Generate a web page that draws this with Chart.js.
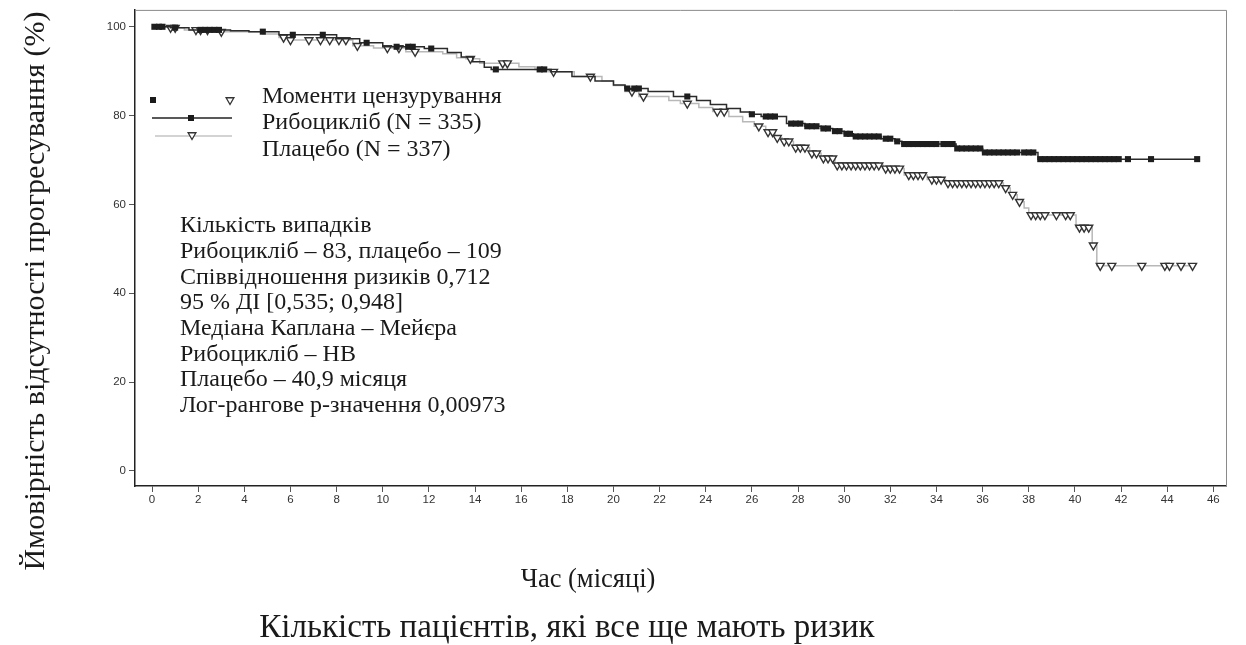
<!DOCTYPE html>
<html><head><meta charset="utf-8">
<script src="https://cdn.jsdelivr.net/npm/chart.js@4/dist/chart.umd.min.js"></script>
<style>html,body{margin:0;padding:0;background:#fff;}#wrap{position:relative;width:1246px;height:645px;}</style>
</head><body><div id="wrap"><canvas id="c" width="1246" height="645"></canvas></div>
<script>
// ---- data ----
const xTicks = [0,2,4,6,8,10,12,14,16,18,20,22,24,26,28,30,32,34,36,38,40,42,44,46];
const yTicks = [0,20,40,60,80,100];

const ribTime = [0,0.8,1.6,3.4,4.2,5.5,8.0,9.0,10.0,11.8,12.8,13.4,13.9,14.4,14.7,17.3,18.2,19.2,20.0,20.5,21.5,22.6,23.6,24.2,24.9,25.5,25.9,26.4,27.5,28.3,29.0,29.5,30.0,30.4,31.6,32.2,32.5,34.85,36.0,38.4,45.3];
const ribSurv = [100,99.8,99.3,99.1,98.9,98.2,97.3,96.4,95.5,95.1,94.2,93.2,92.1,90.9,90.4,89.9,88.8,87.8,86.9,86.1,85.4,84.3,83.4,82.5,81.6,80.8,80.3,79.8,78.2,77.6,77.1,76.5,75.9,75.3,74.8,74.2,73.6,72.6,71.7,70.2,70.2];

const placTime = [0,0.7,1.4,2.8,4.8,5.5,5.9,8.7,9.6,11.0,12.6,13.2,13.6,14.2,15.9,16.6,17.2,18.3,19.5,20.0,20.5,21.1,22.4,22.9,23.7,24.3,25.0,25.6,26.1,26.6,27.0,27.3,27.8,28.5,29.0,29.6,31.7,32.6,33.6,34.4,36.9,37.2,37.5,37.8,38.0,40.05,40.75,40.95,45.1];
const placSurv = [100,99.8,99.3,98.9,98.4,97.6,97.0,95.7,95.2,94.4,93.9,93.0,92.8,91.8,91.0,90.4,89.9,88.8,87.8,86.8,85.4,84.3,83.4,82.7,81.8,80.9,79.8,78.6,77.6,76.3,75.0,74.2,72.8,71.5,70.4,68.8,68.1,66.6,65.6,64.8,63.7,62.2,60.6,59.2,57.6,54.8,50.8,46.2,46.2];

const ribCensTime = [0.1,0.3,0.45,1.0,2.1,2.3,2.5,2.7,2.9,4.8,6.1,7.4,9.3,10.6,11.1,11.3,12.1,14.9,16.8,17.0,20.6,20.9,21.1,23.2,26.0,26.6,26.8,27.0,27.7,27.9,28.1,28.4,28.6,28.8,29.1,29.3,29.6,29.8,30.1,30.25,30.5,30.7,30.9,31.1,31.3,31.5,31.8,32.0,32.3,32.6,32.8,33.0,33.2,33.4,33.6,33.8,34.0,34.3,34.5,34.7,34.9,35.1,35.3,35.5,35.7,35.9,36.1,36.3,36.5,36.7,36.9,37.1,37.3,37.5,37.8,38.0,38.2,38.5,38.7,38.9,39.1,39.3,39.5,39.7,39.9,40.1,40.3,40.5,40.7,40.9,41.1,41.3,41.5,41.7,41.9,42.3,43.3,45.3];
const ribCensSurv = [100,100,100,99.8,99.3,99.3,99.3,99.3,99.3,98.9,98.2,98.2,96.4,95.5,95.5,95.5,95.1,90.4,90.4,90.4,86.1,86.1,86.1,84.3,80.3,79.8,79.8,79.8,78.2,78.2,78.2,77.6,77.6,77.6,77.1,77.1,76.5,76.5,75.9,75.9,75.3,75.3,75.3,75.3,75.3,75.3,74.8,74.8,74.2,73.6,73.6,73.6,73.6,73.6,73.6,73.6,73.6,73.6,73.6,73.6,72.6,72.6,72.6,72.6,72.6,72.6,71.7,71.7,71.7,71.7,71.7,71.7,71.7,71.7,71.7,71.7,71.7,70.2,70.2,70.2,70.2,70.2,70.2,70.2,70.2,70.2,70.2,70.2,70.2,70.2,70.2,70.2,70.2,70.2,70.2,70.2,70.2,70.2];

const placCensTime = [0.8,1.0,1.9,2.1,2.4,3.0,5.7,6.0,6.8,7.3,7.7,8.1,8.4,8.9,10.2,10.7,11.4,13.8,15.2,15.4,17.4,19.0,20.8,21.3,23.2,24.5,24.8,26.3,26.7,26.9,27.1,27.4,27.6,27.9,28.1,28.3,28.6,28.8,29.1,29.3,29.5,29.7,29.9,30.1,30.3,30.5,30.7,30.9,31.1,31.3,31.5,31.8,32.0,32.2,32.4,32.8,33.0,33.2,33.4,33.8,34.0,34.2,34.5,34.7,34.9,35.1,35.3,35.5,35.7,35.9,36.1,36.3,36.5,36.7,37.0,37.3,37.6,38.1,38.3,38.5,38.7,39.2,39.6,39.8,40.2,40.4,40.6,40.8,41.1,41.6,42.9,43.9,44.1,44.6,45.1];
const placCensSurv = [99.8,99.8,99.3,99.3,99.3,98.9,97.6,97.0,97.0,97.0,97.0,97.0,97.0,95.7,95.2,95.2,94.4,92.8,91.8,91.8,89.9,88.8,85.4,84.3,82.7,80.9,80.9,77.6,76.3,76.3,75.0,74.2,74.2,72.8,72.8,72.8,71.5,71.5,70.4,70.4,70.4,68.8,68.8,68.8,68.8,68.8,68.8,68.8,68.8,68.8,68.8,68.1,68.1,68.1,68.1,66.6,66.6,66.6,66.6,65.6,65.6,65.6,64.8,64.8,64.8,64.8,64.8,64.8,64.8,64.8,64.8,64.8,64.8,64.8,63.7,62.2,60.6,57.6,57.6,57.6,57.6,57.6,57.6,57.6,54.8,54.8,54.8,50.8,46.2,46.2,46.2,46.2,46.2,46.2,46.2];

const legendLabels = ['Моменти цензурування','Рибоцикліб (N = 335)','Плацебо (N = 337)'];
const statsLines = ['Кількість випадків','Рибоцикліб – 83, плацебо – 109','Співвідношення ризиків 0,712','95 % ДІ [0,535; 0,948]','Медіана Каплана – Мейєра','Рибоцикліб – НВ','Плацебо – 40,9 місяця','Лог-рангове р-значення 0,00973'];
const yTitle = 'Ймовірність відсутності прогресування (%)';
const xTitle = 'Час (місяці)';
const riskTitle = 'Кількість пацієнтів, які все ще мають ризик';

// ---- helpers ----
const pts = (xs, ys) => xs.map((x, i) => ({x: x, y: ys[i]}));
const SERIF = '"Liberation Serif", "DejaVu Serif", serif';
const SANS = '"Liberation Sans", Arial, sans-serif';

const textPlugin = {
  id: 'texts',
  afterDraw(chart) {
    const ctx = chart.ctx;
    const a = chart.chartArea;
    ctx.save();
    ctx.strokeStyle = '#8a8a8a';
    ctx.lineWidth = 1;
    ctx.beginPath();
    ctx.moveTo(a.left, a.top + 0.5); ctx.lineTo(a.right + 0.5, a.top + 0.5); ctx.lineTo(a.right + 0.5, a.bottom);
    ctx.stroke();

    ctx.fillStyle = '#1a1a1a';
    ctx.fillRect(150, 97, 6, 6);
    drawTri(ctx, 230, 100, 4.5);
    ctx.strokeStyle = '#222'; ctx.lineWidth = 1.5;
    ctx.beginPath(); ctx.moveTo(152, 118); ctx.lineTo(232, 118); ctx.stroke();
    ctx.fillRect(188, 115, 6, 6);
    ctx.strokeStyle = '#c4c4c4'; ctx.lineWidth = 1.5;
    ctx.beginPath(); ctx.moveTo(155, 136); ctx.lineTo(232, 136); ctx.stroke();
    drawTri(ctx, 192, 135, 4.5);

    ctx.fillStyle = '#1a1a1a';
    ctx.font = '24px ' + SERIF;
    ctx.textBaseline = 'middle';
    ctx.textAlign = 'left';
    const ly = [97, 123, 150];
    legendLabels.forEach((t, i) => ctx.fillText(t, 262, ly[i]));

    statsLines.forEach((t, i) => ctx.fillText(t, 180, 226 + i * 25.7));

    ctx.textAlign = 'center';
    ctx.font = '26.5px ' + SERIF;
    ctx.fillText(xTitle, 588, 580);
    ctx.font = '33px ' + SERIF;
    ctx.fillText(riskTitle, 567, 628);
    ctx.save();
    ctx.translate(36, 291);
    ctx.rotate(-Math.PI / 2);
    ctx.font = '30px ' + SERIF;
    ctx.fillText(yTitle, 0, 0);
    ctx.restore();
    ctx.restore();
  }
};
function drawTri(ctx, x, y, r) {
  ctx.save();
  ctx.beginPath();
  ctx.moveTo(x, y + r);
  ctx.lineTo(x - r * 0.866, y - r * 0.5);
  ctx.lineTo(x + r * 0.866, y - r * 0.5);
  ctx.closePath();
  ctx.fillStyle = '#fff'; ctx.fill();
  ctx.strokeStyle = '#333'; ctx.lineWidth = 1.3; ctx.stroke();
  ctx.restore();
}

new Chart(document.getElementById('c'), {
  type: 'scatter',
  data: {
    datasets: [
      {label: 'Рибоцикліб цензурування', data: pts(ribCensTime, ribCensSurv), showLine: false, pointStyle: 'rect', pointRadius: 4.3, backgroundColor: '#1e1e1e', borderColor: '#1e1e1e', borderWidth: 0, order: 0},
      {label: 'Рибоцикліб (N = 335)', data: pts(ribTime, ribSurv), showLine: true, stepped: true, borderColor: '#2b2b2b', borderWidth: 1.5, pointRadius: 0, order: 1},
      {label: 'Плацебо цензурування', data: pts(placCensTime, placCensSurv), showLine: false, pointStyle: 'triangle', pointRotation: 180, pointRadius: 4.6, backgroundColor: '#ffffff', borderColor: '#333', borderWidth: 1.4, order: 2},
      {label: 'Плацебо (N = 337)', data: pts(placTime, placSurv), showLine: true, stepped: true, borderColor: '#b8b8b8', borderWidth: 1.5, pointRadius: 0, order: 3}
    ]
  },
  options: {
    responsive: false,
    animation: false,
    events: [],
    layout: {padding: {left: 0, top: 8, right: 20, bottom: 0}},
    plugins: {legend: {display: false}, tooltip: {enabled: false}},
    scales: {
      x: {
        type: 'linear', min: -0.74, max: 46.55,
        afterBuildTicks: s => { s.ticks = xTicks.map(v => ({value: v})); },
        afterFit: s => { s.height = 159; },
        ticks: {callback: v => String(v), color: '#333', font: {family: SANS, size: 11.5}, padding: 1, maxRotation: 0, autoSkip: false},
        grid: {drawOnChartArea: false, drawTicks: true, tickLength: 6, color: '#555'},
        border: {display: true, color: '#222', width: 1.5}
      },
      y: {
        type: 'linear', min: -3.4, max: 103.8,
        afterBuildTicks: s => { s.ticks = yTicks.map(v => ({value: v})); },
        afterFit: s => { s.width = 135; },
        ticks: {callback: v => String(v), color: '#333', font: {family: SANS, size: 11.5}, padding: 3},
        grid: {drawOnChartArea: false, drawTicks: true, tickLength: 6, color: '#555'},
        border: {display: true, color: '#222', width: 1.5}
      }
    }
  },
  plugins: [textPlugin]
});
</script>
</body></html>
